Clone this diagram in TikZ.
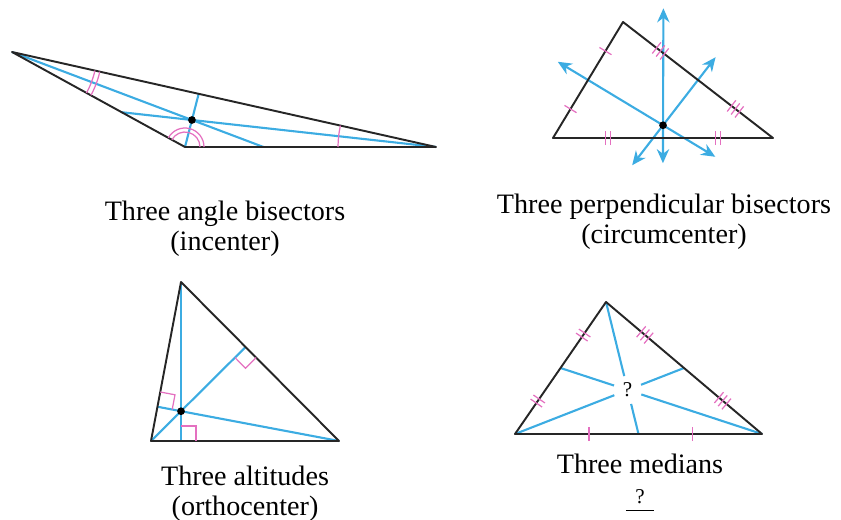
\documentclass[tikz,border=0pt]{standalone}
\usepackage{fontspec}
\setmainfont{Liberation Serif}
\usetikzlibrary{calc,angles,arrows.meta,decorations.markings}

\definecolor{segblue}{RGB}{60,172,226}
\definecolor{markpink}{RGB}{228,112,192}
\definecolor{sidegray}{RGB}{38,38,38}

% tick marks drawn in the frame of a marking
\newcommand{\tickone}{\draw[markpink, line width=0.7pt] (0,-4pt) -- (0,4pt);}
\newcommand{\ticktwo}{\foreach \dx in {-1.4,1.4} {\draw[markpink, line width=0.7pt] (\dx pt,-4pt) -- (\dx pt,4pt);}}
\newcommand{\tickthree}{\foreach \dx in {-2.8,0,2.8} {\draw[markpink, line width=0.7pt] (\dx pt,-4pt) -- (\dx pt,4pt);}}

\begin{document}
\begin{tikzpicture}[x=0.02cm, y=-0.02cm,
	side/.style={draw=sidegray, line width=1.1pt, line join=round},
	seg/.style={draw=segblue, line width=1.2pt},
	ray/.style={seg, {Stealth[length=8pt,width=7pt]}-{Stealth[length=8pt,width=7pt]}},
	arcmark/.style={draw=markpink, line width=0.7pt},
	rightmark/.style={draw=markpink, line width=0.7pt, angle radius=0.3cm},
	ticksat/.style n args={3}{postaction={decorate, decoration={markings,
		mark=at position #1 with {#3}, mark=at position #2 with {#3}}}},
	caption/.style={font=\fontsize{16}{17}\selectfont, align=center, anchor=base},
	qnode/.style={circle, minimum size=0.56cm, inner sep=0pt, font=\fontsize{12}{12}\selectfont}]
	\useasboundingbox (0,0) rectangle (841,520);

	% angle bisectors
	\coordinate (iA) at (12,52);
	\coordinate (iB) at (185,147);
	\coordinate (iC) at (436,147);
	\coordinate (iI) at (barycentric cs:iA=0.2843,iB=0.4921,iC=0.2236);
	\coordinate (iFa) at (intersection of iA--iI and iB--iC);
	\coordinate (iFb) at (intersection of iB--iI and iA--iC);
	\coordinate (iFc) at (intersection of iC--iI and iA--iB);
	\draw[seg] (iA) -- (iFa);
	\draw[seg] (iB) -- (iFb);
	\draw[seg] (iC) -- (iFc);
	\draw[side] (iA) -- (iB) -- (iC) -- cycle;
	\foreach \r in {1.70,1.80} {
		\pic[arcmark, angle radius=\r cm] {angle=iB--iA--iI};
		\pic[arcmark, angle radius=\r cm] {angle=iI--iA--iC};
	}
	\foreach \r in {0.30,0.38} {
		\pic[arcmark, angle radius=\r cm] {angle=iC--iB--iI};
		\pic[arcmark, angle radius=\r cm] {angle=iI--iB--iA};
	}
	\pic[arcmark, angle radius=1.96cm] {angle=iA--iC--iI};
	\pic[arcmark, angle radius=1.96cm] {angle=iI--iC--iB};
	\fill (iI) circle (2.2pt);
	\node[caption] (capIn) at (225,250) {Three angle bisectors\\(incenter)};

	% perpendicular bisectors
	\coordinate (cA) at (553,138);
	\coordinate (cB) at (623,22);
	\coordinate (cC) at (773,138);
	\coordinate (cM1) at ($(cA)!0.5!(cB)$);
	\coordinate (cM2) at ($(cB)!0.5!(cC)$);
	\coordinate (cM3) at ($(cA)!0.5!(cC)$);
	\coordinate (cO) at (intersection of cM1--{$(cM1)!1!90:(cB)$} and cM3--{$(cM3)!1!90:(cC)$});
	\coordinate (cE1) at ($(cO)!2.46cm!(cM1)$);
	\coordinate (cE2) at ($(cO)!-1.22cm!(cM1)$);
	\coordinate (cE3) at ($(cO)!1.72cm!(cM2)$);
	\coordinate (cE4) at ($(cO)!-1.01cm!(cM2)$);
	\coordinate (cE5) at ($(cO)!-2.34cm!(cM3)$);
	\coordinate (cE6) at ($(cO)!0.76cm!(cM3)$);
	\draw[ray] (cE2) -- (cE1);
	\draw[ray] (cE4) -- (cE3);
	\draw[ray] (cE6) -- (cE5);
	\draw[side] (cA) -- (cB) -- (cC) -- cycle;
	\path[ticksat={0.25}{0.75}{\tickone}] (cA) -- (cB);
	\path[ticksat={0.25}{0.75}{\tickthree}] (cB) -- (cC);
	\path[ticksat={0.25}{0.75}{\ticktwo}] (cA) -- (cC);
	\fill (cO) circle (2.2pt);
	\node[caption] (capCirc) at (664,243) {Three perpendicular bisectors\\(circumcenter)};

	% altitudes
	\coordinate (hA) at (181,282);
	\coordinate (hB) at (151,441);
	\coordinate (hC) at (339,441);
	\coordinate (hFa) at ($(hB)!(hA)!(hC)$);
	\coordinate (hFb) at ($(hA)!(hB)!(hC)$);
	\coordinate (hFc) at ($(hA)!(hC)!(hB)$);
	\coordinate (hH) at (intersection of hA--hFa and hB--hFb);
	\draw[seg] (hA) -- (hFa);
	\draw[seg] (hB) -- (hFb);
	\draw[seg] (hC) -- (hFc);
	\draw[side] (hA) -- (hB) -- (hC) -- cycle;
	\pic[rightmark] {right angle=hC--hFa--hA};
	\pic[rightmark] {right angle=hB--hFb--hC};
	\pic[rightmark] {right angle=hA--hFc--hC};
	\fill (hH) circle (2.2pt);
	\node[caption] (capAlt) at (245,515) {Three altitudes\\(orthocenter)};

	% medians
	\coordinate (mA) at (606,302);
	\coordinate (mB) at (515,434);
	\coordinate (mC) at (762,434);
	\coordinate (mMa) at ($(mB)!0.5!(mC)$);
	\coordinate (mMb) at ($(mA)!0.5!(mC)$);
	\coordinate (mMc) at ($(mA)!0.5!(mB)$);
	\node[qnode] (mG) at (barycentric cs:mA=1,mB=1,mC=1) {?};
	\draw[seg] (mA) -- (mG);
	\draw[seg] (mG) -- (mMa);
	\draw[seg] (mB) -- (mG);
	\draw[seg] (mG) -- (mMb);
	\draw[seg] (mC) -- (mG);
	\draw[seg] (mG) -- (mMc);
	\draw[side] (mA) -- (mB) -- (mC) -- cycle;
	\path[ticksat={0.25}{0.75}{\ticktwo}] (mB) -- (mA);
	\path[ticksat={0.25}{0.75}{\tickthree}] (mA) -- (mC);
	\path[ticksat={0.3}{0.72}{\tickone}] (mB) -- (mC);
	\node[caption] (capMed) at (640,503) {Three medians\\{\fontsize{12}{12}\selectfont\underline{\hbox to 16pt{\hss\raisebox{0pt}[\height][3pt]{?}\hss}}}};
\end{tikzpicture}
\end{document}
